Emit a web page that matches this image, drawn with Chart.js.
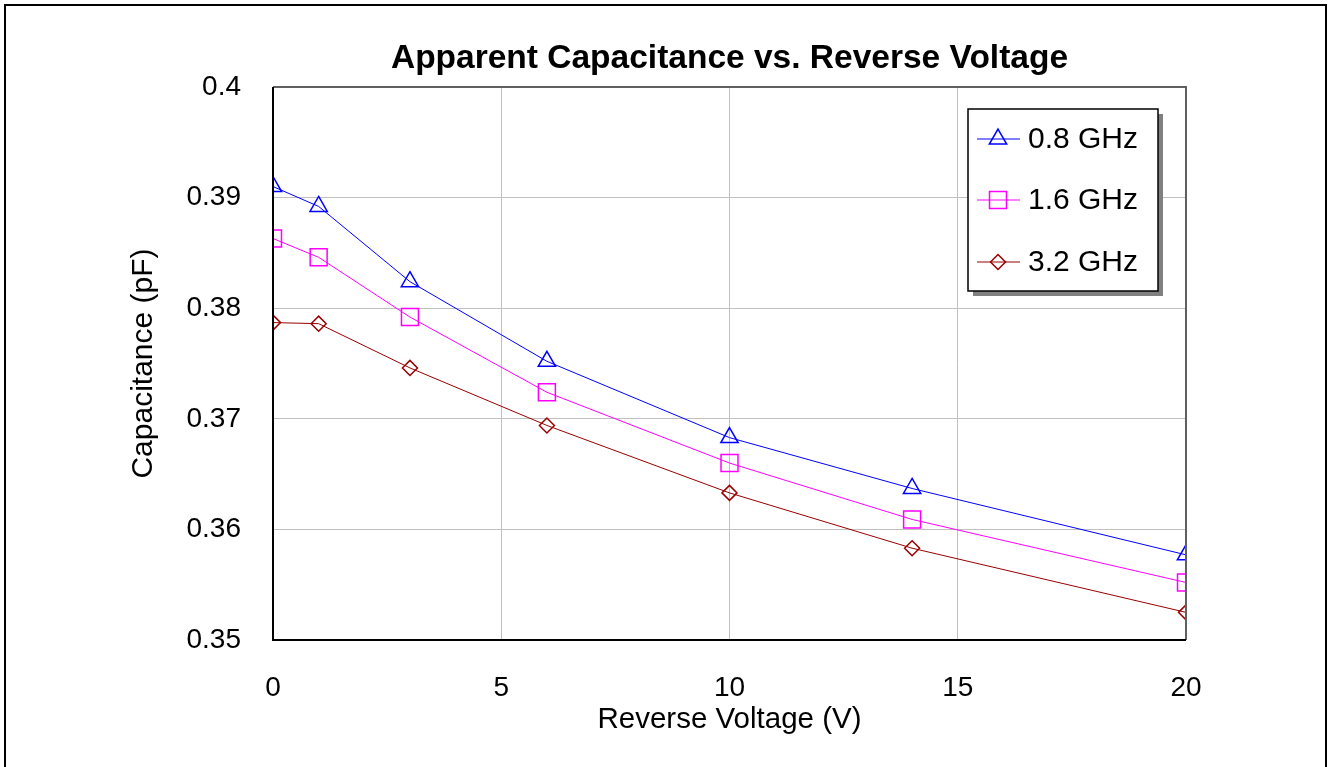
<!DOCTYPE html>
<html>
<head>
<meta charset="utf-8">
<title>Apparent Capacitance vs. Reverse Voltage</title>
<script src="https://cdn.jsdelivr.net/npm/chart.js@4/dist/chart.umd.min.js"></script>
<style>
  html, body { margin: 0; padding: 0; background: #fff; }
  canvas { display: block; }
</style>
</head>
<body>
<canvas id="capChart" width="1330" height="767"></canvas>
<script>
// data
const voltage = [0, 1, 3, 6, 10, 14, 20];
const cap08 = [0.3910, 0.3892, 0.3824, 0.3752, 0.3683, 0.3637, 0.3577];
const cap16 = [0.3863, 0.3846, 0.3792, 0.3724, 0.3660, 0.3609, 0.3552];
const cap32 = [0.3787, 0.3786, 0.3746, 0.3694, 0.3633, 0.3583, 0.3525];
const seriesLabels = ["0.8 GHz", "1.6 GHz", "3.2 GHz"];
const yTicks = [0.35, 0.36, 0.37, 0.38, 0.39, 0.4];
const xTicks = [0, 5, 10, 15, 20];
const chartTitle = 'Apparent Capacitance vs. Reverse Voltage';

const FONT = "'Liberation Sans', Arial, Helvetica, sans-serif";
Chart.defaults.font.family = FONT;
Chart.defaults.color = '#000';

function pts(ys) {
  return voltage.map((v, i) => ({x: v, y: ys[i]}));
}

function series(label, ys, color, style, radius) {
  return {
    label: label,
    data: pts(ys),
    showLine: true,
    borderColor: color,
    borderWidth: 1,
    backgroundColor: 'rgba(0,0,0,0)',
    pointStyle: style,
    pointRadius: radius,
    pointHoverRadius: radius,
    pointBorderColor: color,
    pointBackgroundColor: 'rgba(0,0,0,0)',
    pointBorderWidth: 1.5,
    tension: 0
  };
}

// outer frame, title, plot border and legend box
const framePlugin = {
  id: 'frame',
  beforeDraw(chart) {
    const ctx = chart.ctx;
    const a = chart.chartArea;
    ctx.save();
    ctx.fillStyle = '#fff';
    ctx.fillRect(0, 0, chart.width, chart.height);
    ctx.strokeStyle = '#000';
    ctx.lineWidth = 2;
    ctx.strokeRect(5, 5, 1321, 800);
    ctx.fillStyle = '#000';
    ctx.font = 'bold 33.5px ' + FONT;
    ctx.textAlign = 'center';
    ctx.textBaseline = 'middle';
    ctx.fillText(chartTitle, (a.left + a.right) / 2, 59);
    ctx.restore();
  },
  afterDatasetsDraw(chart) {
    const ctx = chart.ctx;
    const a = chart.chartArea;
    ctx.save();
    ctx.lineWidth = 2;
    ctx.strokeStyle = '#606060';
    ctx.beginPath();
    ctx.moveTo(a.left, a.top);
    ctx.lineTo(a.right, a.top);
    ctx.lineTo(a.right, a.bottom);
    ctx.stroke();
    ctx.strokeStyle = '#000';
    ctx.beginPath();
    ctx.moveTo(a.left, a.top);
    ctx.lineTo(a.left, a.bottom);
    ctx.lineTo(a.right, a.bottom);
    ctx.stroke();
    ctx.restore();
  },
  afterDraw(chart) {
    const ctx = chart.ctx;
    const bx = 968, by = 109, bw = 190, bh = 182;
    ctx.save();
    ctx.fillStyle = '#808080';
    ctx.fillRect(bx + 5, by + 5, bw, bh);
    ctx.fillStyle = '#fff';
    ctx.fillRect(bx, by, bw, bh);
    ctx.strokeStyle = '#000';
    ctx.lineWidth = 1.5;
    ctx.strokeRect(bx, by, bw, bh);
    const rows = [139, 200, 262];
    chart.data.datasets.forEach((ds, i) => {
      const y = rows[i];
      ctx.strokeStyle = ds.borderColor;
      ctx.lineWidth = 1;
      ctx.beginPath();
      ctx.moveTo(977, y);
      ctx.lineTo(1020, y);
      ctx.stroke();
      ctx.lineWidth = 1.5;
      ctx.fillStyle = 'rgba(0,0,0,0)';
      Chart.helpers.drawPoint(ctx, {
        pointStyle: ds.pointStyle,
        radius: ds.pointRadius,
        rotation: 0,
        borderWidth: 1.5
      }, 998, y);
      ctx.fillStyle = '#000';
      ctx.font = '30px ' + FONT;
      ctx.textBaseline = 'middle';
      ctx.textAlign = 'left';
      ctx.fillText(ds.label, 1028, y + 1);
    });
    ctx.restore();
  }
};

new Chart(document.getElementById('capChart'), {
  type: 'scatter',
  data: {
    datasets: [
      series(seriesLabels[0], cap08, '#0000ff', 'triangle', 10),
      series(seriesLabels[1], cap16, '#ff00ff', 'rect', 12),
      series(seriesLabels[2], cap32, '#990000', 'rectRot', 7.5)
    ]
  },
  options: {
    responsive: false,
    animation: false,
    events: [],
    layout: { padding: { left: 0, right: 144, top: 87, bottom: 0 } },
    plugins: {
      legend: { display: false },
      tooltip: { enabled: false },
      title: { display: false }
    },
    scales: {
      x: {
        type: 'linear',
        min: 0,
        max: 20,
        afterBuildTicks: s => { s.ticks = xTicks.map(v => ({value: v})); },
        afterFit: s => { s.height = 127; },
        grid: { color: '#c0c0c0', lineWidth: 1, drawTicks: false },
        border: { display: false },
        ticks: { font: { size: 28 }, padding: 31, color: '#000', maxRotation: 0 },
        title: {
          display: true,
          text: 'Reverse Voltage (V)',
          font: { size: 29.5 },
          color: '#000',
          padding: { top: 0, bottom: 29 }
        }
      },
      y: {
        type: 'linear',
        min: 0.35,
        max: 0.4,
        afterBuildTicks: s => { s.ticks = yTicks.map(v => ({value: v})); },
        afterFit: s => { s.width = 273; },
        grid: { color: '#c0c0c0', lineWidth: 1, drawTicks: false },
        border: { display: false },
        ticks: {
          font: { size: 28 },
          padding: 32,
          color: '#000',
          callback: v => String(+v.toFixed(3))
        },
        title: {
          display: true,
          text: 'Capacitance (pF)',
          font: { size: 30 },
          color: '#000',
          padding: { top: 126, bottom: 0 }
        }
      }
    }
  },
  plugins: [framePlugin]
});
</script>
</body>
</html>
